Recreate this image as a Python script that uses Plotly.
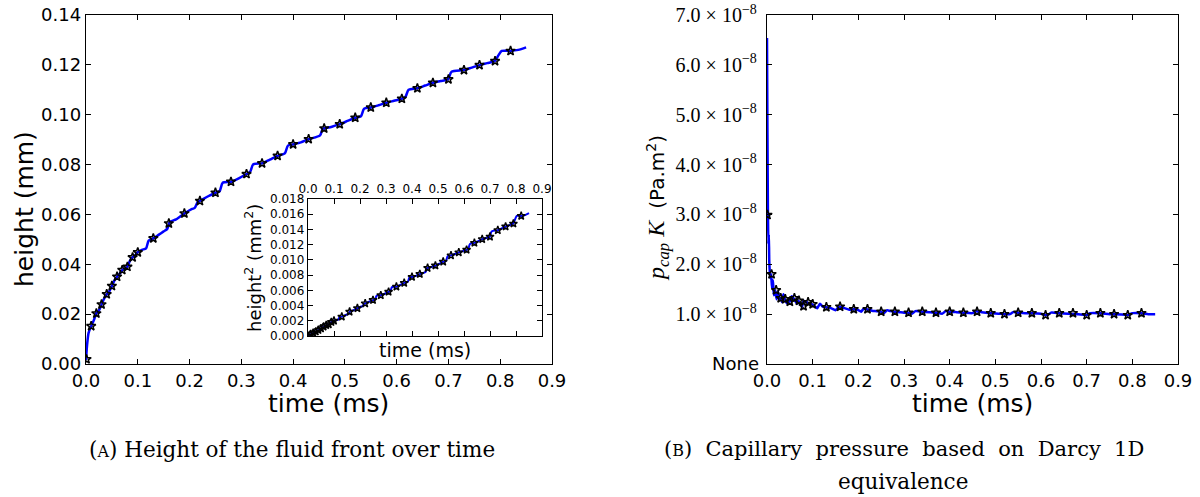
import plotly.graph_objects as go

W, H = 1200, 497

# ---------------- data ----------------
marker_t = [0.001, 0.01, 0.02, 0.03, 0.04, 0.05, 0.06, 0.07, 0.08, 0.09, 0.10,
            0.13, 0.16, 0.19, 0.22, 0.25, 0.28, 0.31, 0.34, 0.37, 0.40, 0.43,
            0.46, 0.49, 0.52, 0.55, 0.58, 0.61, 0.64, 0.67, 0.70, 0.73, 0.76,
            0.79, 0.82]
marker_h = [0.0019, 0.0152, 0.0203, 0.0239, 0.0280, 0.0313, 0.0350, 0.0377,
            0.0390, 0.0428, 0.0448, 0.0504, 0.0564, 0.0604, 0.0654, 0.0687,
            0.0731, 0.0762, 0.0805, 0.0835, 0.0881, 0.0902, 0.0945, 0.0962,
            0.0988, 0.1029, 0.1048, 0.1064, 0.1106, 0.1128, 0.1142, 0.1179,
            0.1199, 0.1215, 0.1256]
marker_pk = [2.99, 1.80, 1.48, 1.32, 1.30, 1.25, 1.32, 1.27, 1.16, 1.24, 1.20,
             1.14, 1.15, 1.10, 1.10, 1.05, 1.05, 1.03, 1.05, 1.03, 1.05, 1.03,
             1.05, 1.02, 1.00, 1.03, 1.02, 0.98, 1.02, 1.02, 0.98, 1.02, 1.00,
             0.98, 1.02]  # x 1e-8 Pa.m^2

line_t = [0.0, 0.002, 0.005, 0.01, 0.015, 0.02, 0.025, 0.03, 0.035, 0.04,
          0.045, 0.05, 0.055, 0.06, 0.065, 0.07, 0.075, 0.08, 0.085, 0.09,
          0.095, 0.10, 0.108, 0.116, 0.121, 0.13, 0.14, 0.15, 0.157, 0.162,
          0.174, 0.19, 0.205, 0.210, 0.216, 0.22, 0.235, 0.25, 0.258, 0.264,
          0.28, 0.295, 0.31, 0.317, 0.323, 0.34, 0.355, 0.37, 0.384, 0.390,
          0.40, 0.415, 0.43, 0.452, 0.457, 0.46, 0.475, 0.49, 0.505, 0.52,
          0.531, 0.537, 0.55, 0.565, 0.58, 0.595, 0.61, 0.617, 0.623, 0.64,
          0.655, 0.67, 0.685, 0.699, 0.706, 0.73, 0.745, 0.76, 0.775, 0.789,
          0.797, 0.803, 0.82, 0.835, 0.85]
line_h = [0.0016, 0.0075, 0.0125, 0.0152, 0.0175, 0.0203, 0.0215, 0.0239,
          0.0262, 0.0280, 0.0292, 0.0313, 0.0335, 0.0350, 0.0362, 0.0377,
          0.0384, 0.0390, 0.0415, 0.0428, 0.0437, 0.0448, 0.0458, 0.0464,
          0.0495, 0.0504, 0.0518, 0.0532, 0.0542, 0.0570, 0.0580, 0.0604,
          0.0622, 0.0626, 0.0651, 0.0654, 0.0672, 0.0687, 0.0693, 0.0727,
          0.0731, 0.0745, 0.0762, 0.0771, 0.0801, 0.0805, 0.0820, 0.0835,
          0.0845, 0.0876, 0.0881, 0.0889, 0.0902, 0.0917, 0.0943, 0.0945,
          0.0952, 0.0962, 0.0975, 0.0988, 0.0994, 0.1024, 0.1029, 0.1038,
          0.1048, 0.1056, 0.1064, 0.1072, 0.1100, 0.1106, 0.1117, 0.1128,
          0.1135, 0.1142, 0.1172, 0.1179, 0.1189, 0.1199, 0.1207, 0.1215,
          0.1240, 0.1256, 0.1256, 0.1260, 0.1270]

pk_t = [0.0, 0.001, 0.002, 0.003, 0.004, 0.005, 0.007, 0.009, 0.011, 0.013,
        0.015, 0.018, 0.021, 0.024, 0.027, 0.030, 0.033, 0.036, 0.039, 0.043,
        0.047, 0.050, 0.054, 0.058, 0.062, 0.066, 0.069, 0.073, 0.077, 0.080,
        0.084, 0.087, 0.092, 0.098, 0.104, 0.110, 0.116, 0.122, 0.129, 0.140,
        0.150, 0.158, 0.170, 0.180, 0.190, 0.200, 0.206, 0.212, 0.218, 0.230,
        0.240, 0.249, 0.256, 0.263, 0.270, 0.279, 0.290, 0.300, 0.310, 0.318,
        0.325, 0.340, 0.355, 0.370, 0.384, 0.391, 0.400, 0.415, 0.430, 0.450,
        0.458, 0.470, 0.490, 0.510, 0.520, 0.532, 0.539, 0.550, 0.565, 0.580,
        0.600, 0.614, 0.622, 0.640, 0.660, 0.680, 0.695, 0.700, 0.707, 0.730,
        0.750, 0.760, 0.785, 0.790, 0.800, 0.820, 0.835, 0.850]
pk_v = [6.54, 4.6, 3.1, 2.4, 2.6, 2.05, 1.72, 1.80, 1.52, 1.68, 1.38, 1.48,
        1.30, 1.45, 1.30, 1.32, 1.24, 1.40, 1.30, 1.22, 1.30, 1.25, 1.36, 1.32,
        1.26, 1.21, 1.27, 1.20, 1.15, 1.27, 1.25, 1.24, 1.21, 1.20, 1.16, 1.12,
        1.21, 1.15, 1.14, 1.12, 1.08, 1.15, 1.12, 1.09, 1.10, 1.08, 1.05, 1.11,
        1.10, 1.07, 1.06, 1.05, 1.02, 1.08, 1.06, 1.05, 1.04, 1.03, 1.03, 1.01,
        1.06, 1.05, 1.04, 1.03, 1.01, 1.06, 1.05, 1.04, 1.03, 1.02, 1.06, 1.04,
        1.02, 1.01, 1.00, 1.00, 1.04, 1.03, 1.02, 1.02, 1.01, 0.98, 1.03, 1.02,
        1.01, 1.00, 0.99, 0.98, 1.02, 1.02, 1.00, 1.00, 0.99, 0.98, 1.02, 1.02,
        1.00, 1.00]  # x 1e-8

time_ticks = [0.0, 0.1, 0.2, 0.3, 0.4, 0.5, 0.6, 0.7, 0.8, 0.9]
h_ticks = [0.00, 0.02, 0.04, 0.06, 0.08, 0.10, 0.12, 0.14]
h2_ticks = [0.000, 0.002, 0.004, 0.006, 0.008, 0.010, 0.012, 0.014, 0.016, 0.018]
pk_ticks = [1, 2, 3, 4, 5, 6, 7]  # x 1e-8
pk_ticktext = ["%.1f × 10<sup>−8</sup>" % v for v in pk_ticks]

SCALE = 1e-8
line_h2 = [h * h for h in line_h]
marker_h2 = [h * h for h in marker_h]
pk_line = [v * SCALE for v in pk_v]
pk_mark = [v * SCALE for v in marker_pk]


def px(x):
    return x / W


def py(y):
    return 1 - y / H


SANS = "DejaVu Sans"
SERIF = "Liberation Serif"
CAPF = "DejaVu Serif"
BLUE = "#0000ff"

fig = go.Figure()

star = dict(symbol="star-open", size=7, color="black", line=dict(width=1.5, color="black"))

# main height plot
fig.add_trace(go.Scatter(x=line_t, y=line_h, mode="lines", xaxis="x", yaxis="y",
                         line=dict(color=BLUE, width=2.5, shape="spline", smoothing=0.7),
                         showlegend=False, hoverinfo="skip"))
fig.add_trace(go.Scatter(x=marker_t, y=marker_h, mode="markers", xaxis="x", yaxis="y",
                         marker=star, showlegend=False))
# inset
fig.add_trace(go.Scatter(x=line_t, y=line_h2, mode="lines", xaxis="x2", yaxis="y2",
                         line=dict(color=BLUE, width=2, shape="spline", smoothing=0.7),
                         showlegend=False, hoverinfo="skip"))
fig.add_trace(go.Scatter(x=marker_t, y=marker_h2, mode="markers", xaxis="x2", yaxis="y2",
                         marker=dict(symbol="star-open", size=6, color="black",
                                     line=dict(width=1.4, color="black")),
                         showlegend=False))
# capillary pressure
fig.add_trace(go.Scatter(x=pk_t, y=pk_line, mode="lines", xaxis="x3", yaxis="y3",
                         line=dict(color=BLUE, width=2.5, shape="spline", smoothing=0.5),
                         showlegend=False, hoverinfo="skip"))
fig.add_trace(go.Scatter(x=marker_t, y=pk_mark, mode="markers", xaxis="x3", yaxis="y3",
                         marker=star, showlegend=False))

axis_common = dict(showline=True, linecolor="black", linewidth=1.2, mirror="ticks",
                   ticks="inside", ticklen=5, tickcolor="black", tickwidth=1,
                   showgrid=False, zeroline=False, automargin=False,
                   ticklabeloverflow="allow")

fig.update_layout(
    template="none",
    width=W, height=H,
    margin=dict(l=0, r=0, t=0, b=0, autoexpand=False),
    paper_bgcolor="white", plot_bgcolor="white",
    xaxis=dict(domain=[px(86), px(552)], range=[0, 0.9], anchor="y",
               tickvals=time_ticks, tickformat=".1f",
               tickfont=dict(family=SANS, size=18, color="black"), **axis_common),
    yaxis=dict(domain=[py(364), py(15)], range=[0, 0.14], anchor="x",
               tickvals=h_ticks, tickformat=".2f",
               tickfont=dict(family=SANS, size=18, color="black"), **axis_common),
    xaxis2=dict(domain=[px(308), px(542)], range=[0, 0.9], anchor="y2", side="top",
                tickvals=time_ticks, tickformat=".1f",
                tickfont=dict(family=SANS, size=12, color="black"), **axis_common),
    yaxis2=dict(domain=[py(336), py(199)], range=[0, 0.018], anchor="x2",
                tickvals=h2_ticks, tickformat=".3f",
                tickfont=dict(family=SANS, size=12, color="black"), **axis_common),
    xaxis3=dict(domain=[px(767), px(1178)], range=[0, 0.9], anchor="y3",
                tickvals=time_ticks, tickformat=".1f",
                tickfont=dict(family=SANS, size=18, color="black"), **axis_common),
    yaxis3=dict(domain=[py(364), py(15)], range=[0, 7e-8], anchor="x3",
                tickvals=[v * SCALE for v in pk_ticks], ticktext=pk_ticktext,
                tickfont=dict(family=SERIF, size=20, color="black"),
                ticklabelstandoff=5, **axis_common),
)

NB = "\u00a0\u00a0"
annos = [
    # axis titles
    dict(x=px(328), y=py(403), text="time (ms)", font=dict(family=SANS, size=25)),
    dict(x=px(24), y=py(209), text="height (mm)", textangle=-90,
         font=dict(family=SANS, size=25)),
    dict(x=px(425), y=py(350), text="time (ms)", font=dict(family=SANS, size=19)),
    dict(x=px(253), y=py(268), text="height<sup>2</sup> (mm<sup>2</sup>)", textangle=-90,
         font=dict(family=SANS, size=18)),
    dict(x=px(972), y=py(403), text="time (ms)", font=dict(family=SANS, size=25)),
    dict(x=px(658), y=py(208), textangle=-90,
         text="<i>p</i><sub><i>cap</i></sub> <i>K</i>\u00a0\u00a0"
              "<span style='font-family:DejaVu Sans;font-size:20px'>(Pa.m<sup>2</sup>)</span>",
         font=dict(family=SERIF, size=24)),
    dict(x=px(761), y=py(363), text="None", xanchor="right",
         font=dict(family=SANS, size=18)),
    # captions
    dict(x=px(87), y=py(449), xanchor="left",
         text="(<span style='font-size:16px'>A</span>) Height of the fluid front over time",
         font=dict(family=CAPF, size=21.5)),
    dict(x=px(904), y=py(449),
         text=NB.join(["(<span style='font-size:16px'>B</span>)", "Capillary", "pressure",
                       "based", "on", "Darcy", "1D"]),
         font=dict(family=CAPF, size=21)),
    dict(x=px(903), y=py(481), text="equivalence", font=dict(family=CAPF, size=21.5)),
]

for a in annos:
    a.setdefault("xref", "paper")
    a.setdefault("yref", "paper")
    a.setdefault("showarrow", False)
    a.setdefault("xanchor", "center")
    a.setdefault("yanchor", "middle")
    a["font"].setdefault("color", "black")
fig.update_layout(annotations=annos)

fig.write_html("out.html",
               config={"displayModeBar": False, "staticPlot": True},
               post_script="document.body.style.margin='0';"
                           "document.body.style.overflow='hidden';")
